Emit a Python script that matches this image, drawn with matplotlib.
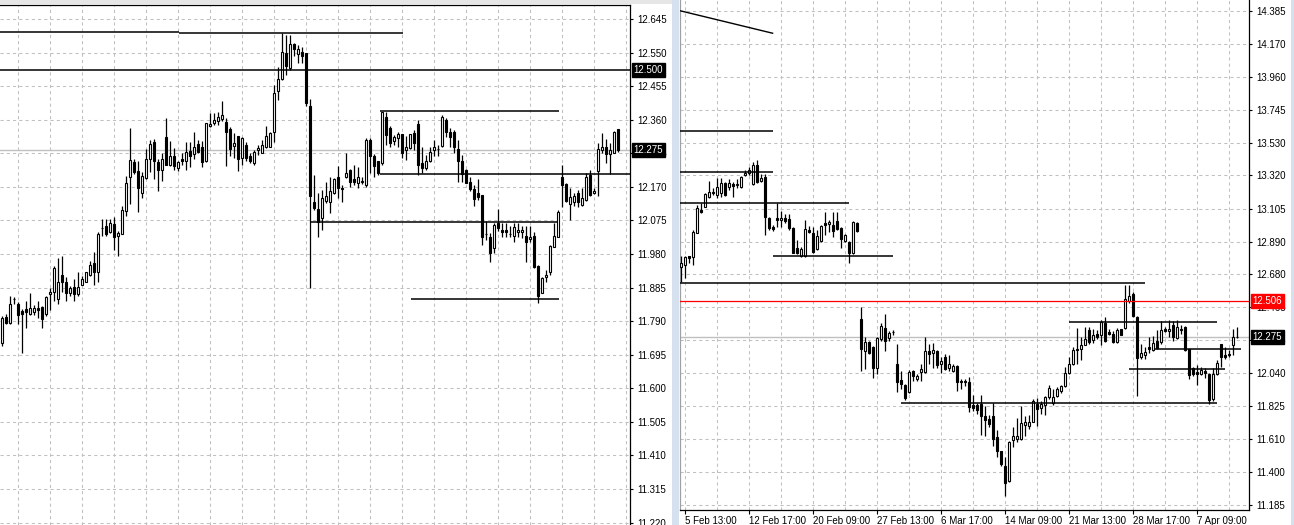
import numpy as np
import matplotlib.pyplot as plt
from matplotlib.patches import Rectangle

plt.rcParams['font.family'] = ['Liberation Sans', 'DejaVu Sans']

# ---- left chart, one bar per entry ----
left_open = [
    11.727, 11.803, 11.786, 11.852, 11.838, 11.819, 11.824, 11.809, 11.817, 11.828,
    11.830, 11.809, 11.868, 11.873, 11.854, 11.920, 11.900, 11.871, 11.888, 11.867,
    11.893, 11.902, 11.920, 11.954, 11.928, 12.055, 12.058, 12.043, 12.064, 12.030,
    12.038, 12.102, 12.199, 12.241, 12.216, 12.154, 12.194, 12.249, 12.296, 12.239,
    12.218, 12.310, 12.232, 12.258, 12.223, 12.250, 12.244, 12.272, 12.263, 12.291,
    12.282, 12.244, 12.343, 12.352, 12.357, 12.361, 12.353, 12.334, 12.286, 12.314,
    12.251, 12.289, 12.256, 12.237, 12.273, 12.267, 12.282, 12.284, 12.326, 12.442,
    12.474, 12.548, 12.506, 12.574, 12.546, 12.553, 12.550, 12.399, 12.128, 12.107,
    12.081, 12.131, 12.126, 12.152, 12.199, 12.168, 12.197, 12.218, 12.192, 12.182,
    12.185, 12.175, 12.303, 12.256, 12.242, 12.237, 12.369, 12.336, 12.301, 12.308,
    12.320, 12.273, 12.279, 12.322, 12.348, 12.237, 12.223, 12.242, 12.273, 12.277,
    12.286, 12.359, 12.324, 12.326, 12.276, 12.242, 12.218, 12.185, 12.163, 12.152,
    12.147, 12.037, 12.029, 11.996, 12.069, 12.048, 12.048, 12.037, 12.031, 12.041,
    12.041, 12.031, 12.022, 12.031, 11.946, 11.871, 11.916, 11.930, 12.001, 12.029,
    12.197, 12.178, 12.122, 12.126, 12.152, 12.119, 12.133, 12.204, 12.152, 12.216,
    12.273, 12.282, 12.263, 12.267, 12.333]
left_high = [
    11.806, 11.810, 11.862, 11.857, 11.845, 11.824, 11.848, 11.869, 11.837, 11.848,
    11.834, 11.862, 11.885, 11.947, 11.968, 11.975, 11.914, 11.890, 11.909, 11.930,
    11.918, 11.930, 11.961, 11.985, 12.043, 12.079, 12.079, 12.079, 12.084, 12.046,
    12.115, 12.201, 12.336, 12.249, 12.244, 12.211, 12.277, 12.303, 12.305, 12.250,
    12.267, 12.366, 12.300, 12.279, 12.244, 12.267, 12.298, 12.298, 12.326, 12.303,
    12.300, 12.352, 12.378, 12.378, 12.383, 12.413, 12.364, 12.340, 12.322, 12.314,
    12.310, 12.298, 12.267, 12.275, 12.289, 12.303, 12.341, 12.324, 12.458, 12.508,
    12.605, 12.600, 12.600, 12.578, 12.572, 12.567, 12.550, 12.418, 12.204, 12.152,
    12.161, 12.185, 12.199, 12.194, 12.229, 12.175, 12.267, 12.220, 12.232, 12.226,
    12.199, 12.307, 12.307, 12.263, 12.244, 12.383, 12.383, 12.341, 12.317, 12.326,
    12.320, 12.314, 12.320, 12.331, 12.359, 12.284, 12.260, 12.284, 12.303, 12.289,
    12.374, 12.364, 12.336, 12.331, 12.303, 12.260, 12.220, 12.197, 12.175, 12.192,
    12.147, 12.072, 12.039, 12.069, 12.107, 12.069, 12.069, 12.058, 12.067, 12.067,
    12.060, 12.058, 12.058, 12.043, 11.949, 11.916, 11.935, 12.006, 12.067, 12.105,
    12.232, 12.182, 12.166, 12.152, 12.161, 12.166, 12.210, 12.218, 12.166, 12.295,
    12.322, 12.305, 12.295, 12.329, 12.333]
left_low = [
    11.719, 11.782, 11.782, 11.838, 11.782, 11.700, 11.772, 11.807, 11.807, 11.798,
    11.771, 11.805, 11.822, 11.848, 11.838, 11.873, 11.848, 11.862, 11.848, 11.862,
    11.892, 11.900, 11.917, 11.893, 11.900, 12.030, 12.030, 12.039, 11.992, 11.973,
    12.036, 12.088, 12.121, 12.206, 12.100, 12.138, 12.192, 12.213, 12.192, 12.159,
    12.187, 12.232, 12.230, 12.218, 12.216, 12.232, 12.218, 12.225, 12.249, 12.267,
    12.225, 12.241, 12.340, 12.345, 12.345, 12.357, 12.229, 12.256, 12.251, 12.216,
    12.232, 12.242, 12.237, 12.232, 12.260, 12.265, 12.279, 12.282, 12.298, 12.416,
    12.473, 12.487, 12.501, 12.539, 12.520, 12.520, 12.399, 11.883, 12.105, 12.029,
    12.048, 12.124, 12.097, 12.150, 12.138, 12.126, 12.194, 12.169, 12.175, 12.166,
    12.178, 12.171, 12.209, 12.199, 12.204, 12.232, 12.289, 12.284, 12.289, 12.282,
    12.251, 12.246, 12.276, 12.274, 12.204, 12.210, 12.218, 12.239, 12.258, 12.258,
    12.284, 12.312, 12.284, 12.265, 12.185, 12.185, 12.180, 12.157, 12.116, 12.133,
    12.006, 12.020, 11.956, 11.984, 12.046, 12.029, 12.029, 12.027, 12.015, 12.029,
    12.025, 11.956, 12.015, 11.940, 11.841, 11.869, 11.902, 11.921, 11.999, 12.027,
    12.112, 12.128, 12.075, 12.116, 12.114, 12.116, 12.131, 12.143, 12.150, 12.143,
    12.265, 12.237, 12.207, 12.265, 12.269]
left_close = [
    11.798, 11.785, 11.838, 11.852, 11.808, 11.809, 11.817, 11.828, 11.828, 11.822,
    11.796, 11.857, 11.873, 11.939, 11.902, 11.902, 11.869, 11.883, 11.866, 11.888,
    11.908, 11.928, 11.949, 11.928, 12.038, 12.053, 12.038, 12.069, 12.029, 12.039,
    12.104, 12.181, 12.246, 12.211, 12.167, 12.200, 12.250, 12.291, 12.244, 12.218,
    12.249, 12.232, 12.256, 12.230, 12.239, 12.244, 12.269, 12.258, 12.284, 12.269,
    12.239, 12.350, 12.348, 12.359, 12.367, 12.373, 12.326, 12.276, 12.293, 12.248,
    12.307, 12.251, 12.242, 12.270, 12.279, 12.289, 12.314, 12.322, 12.435, 12.474,
    12.553, 12.512, 12.574, 12.559, 12.559, 12.539, 12.408, 12.143, 12.109, 12.070,
    12.138, 12.144, 12.157, 12.192, 12.166, 12.163, 12.210, 12.185, 12.185, 12.199,
    12.186, 12.303, 12.256, 12.229, 12.210, 12.383, 12.317, 12.293, 12.310, 12.320,
    12.267, 12.284, 12.320, 12.293, 12.232, 12.223, 12.243, 12.270, 12.282, 12.276,
    12.367, 12.326, 12.312, 12.282, 12.242, 12.207, 12.182, 12.163, 12.135, 12.141,
    12.029, 12.036, 11.984, 12.062, 12.053, 12.041, 12.041, 12.036, 12.056, 12.048,
    12.048, 12.015, 12.029, 11.944, 11.860, 11.911, 11.921, 12.003, 12.031, 12.100,
    12.176, 12.131, 12.142, 12.144, 12.128, 12.138, 12.197, 12.147, 12.159, 12.276,
    12.284, 12.263, 12.275, 12.326, 12.275]

# ---- right chart, one bar per entry ----
right_open = [
    12.730, 12.740, 12.795, 12.794, 12.950, 13.096, 13.118, 13.183, 13.215, 13.194,
    13.204, 13.269, 13.243, 13.265, 13.256, 13.243, 13.325, 13.334, 13.265, 13.388,
    13.286, 13.308, 13.042, 12.984, 13.042, 13.032, 13.042, 13.036, 12.978, 12.848,
    12.798, 12.798, 12.967, 12.950, 12.842, 12.898, 13.014, 13.006, 12.999, 13.027,
    12.978, 12.898, 12.891, 12.816, 13.014, 12.389, 12.184, 12.243, 12.206, 12.076,
    12.260, 12.329, 12.264, 12.307, 12.098, 11.997, 11.962, 11.919, 12.055, 12.001,
    12.044, 12.044, 12.184, 12.169, 12.184, 12.098, 12.141, 12.076, 12.055, 12.083,
    11.990, 11.990, 11.979, 11.832, 11.832, 11.839, 11.759, 11.742, 11.759, 11.623,
    11.537, 11.435, 11.342, 11.608, 11.612, 11.612, 11.703, 11.694, 11.724, 11.839,
    11.815, 11.831, 11.885, 11.848, 11.891, 11.921, 11.956, 12.042, 12.100, 12.198,
    12.193, 12.224, 12.316, 12.252, 12.295, 12.284, 12.366, 12.306, 12.295, 12.241,
    12.323, 12.331, 12.504, 12.554, 12.403, 12.144, 12.159, 12.208, 12.187, 12.249,
    12.241, 12.323, 12.310, 12.353, 12.267, 12.327, 12.338, 12.193, 12.072, 12.046,
    12.036, 12.051, 12.036, 11.869, 12.036, 12.230, 12.159, 12.165, 12.219, 12.273]
right_high = [
    12.800, 12.798, 12.799, 12.967, 13.129, 13.140, 13.209, 13.286, 13.237, 13.301,
    13.301, 13.280, 13.295, 13.280, 13.295, 13.317, 13.355, 13.377, 13.409, 13.420,
    13.330, 13.330, 13.053, 12.999, 13.144, 13.090, 13.070, 13.070, 12.988, 12.902,
    12.855, 13.032, 12.993, 12.988, 12.967, 12.997, 13.086, 13.032, 13.086, 13.086,
    12.984, 12.941, 12.898, 13.027, 13.021, 12.465, 12.271, 12.249, 12.217, 12.271,
    12.364, 12.422, 12.314, 12.320, 12.228, 12.055, 11.968, 12.061, 12.061, 12.033,
    12.098, 12.271, 12.228, 12.234, 12.191, 12.141, 12.163, 12.156, 12.098, 12.092,
    12.001, 12.001, 12.012, 11.897, 11.845, 11.897, 11.828, 11.768, 11.845, 11.673,
    11.537, 11.494, 11.601, 11.688, 11.746, 11.824, 11.763, 11.768, 11.871, 11.876,
    11.860, 11.893, 11.964, 11.939, 11.949, 11.964, 12.079, 12.144, 12.208, 12.331,
    12.273, 12.338, 12.338, 12.327, 12.316, 12.381, 12.403, 12.327, 12.310, 12.331,
    12.327, 12.612, 12.608, 12.565, 12.409, 12.230, 12.208, 12.273, 12.280, 12.316,
    12.375, 12.338, 12.381, 12.375, 12.381, 12.349, 12.344, 12.198, 12.079, 12.094,
    12.079, 12.072, 12.042, 12.072, 12.122, 12.230, 12.208, 12.187, 12.327, 12.338]
right_low = [
    12.630, 12.654, 12.751, 12.740, 12.945, 13.079, 13.114, 13.172, 13.194, 13.172,
    13.183, 13.189, 13.226, 13.183, 13.237, 13.239, 13.317, 13.325, 13.258, 13.269,
    13.280, 12.934, 12.967, 12.963, 12.984, 12.984, 13.014, 12.967, 12.816, 12.811,
    12.794, 12.790, 12.945, 12.820, 12.837, 12.891, 12.934, 12.956, 12.919, 12.967,
    12.848, 12.891, 12.755, 12.811, 12.956, 12.055, 12.066, 12.163, 12.005, 12.033,
    12.249, 12.184, 12.249, 12.286, 11.919, 11.936, 11.867, 11.914, 11.990, 11.990,
    11.990, 12.040, 12.098, 12.076, 12.076, 12.040, 12.061, 12.055, 12.048, 11.925,
    11.936, 11.953, 11.785, 11.796, 11.774, 11.638, 11.634, 11.688, 11.569, 11.494,
    11.440, 11.245, 11.336, 11.558, 11.591, 11.608, 11.630, 11.677, 11.720, 11.694,
    11.774, 11.768, 11.869, 11.835, 11.885, 11.913, 11.949, 12.036, 12.094, 12.100,
    12.122, 12.219, 12.230, 12.236, 12.262, 12.224, 12.241, 12.284, 12.236, 12.236,
    12.284, 12.327, 12.496, 12.403, 11.891, 12.133, 12.133, 12.172, 12.180, 12.198,
    12.230, 12.306, 12.273, 12.245, 12.262, 12.295, 12.180, 12.003, 12.021, 11.960,
    12.025, 12.008, 11.841, 11.856, 12.029, 12.079, 12.133, 12.144, 12.154, 12.267]
right_close = [
    12.750, 12.794, 12.787, 12.956, 13.107, 13.086, 13.200, 13.215, 13.204, 13.248,
    13.273, 13.194, 13.273, 13.252, 13.265, 13.312, 13.338, 13.355, 13.388, 13.280,
    13.301, 13.053, 12.978, 12.971, 13.032, 13.042, 13.027, 12.978, 12.820, 12.820,
    12.842, 12.971, 12.956, 12.827, 12.928, 12.993, 12.999, 13.021, 12.963, 12.971,
    12.906, 12.934, 12.816, 13.021, 12.963, 12.195, 12.243, 12.169, 12.076, 12.264,
    12.342, 12.249, 12.299, 12.305, 11.984, 11.968, 11.876, 12.044, 12.018, 12.022,
    12.066, 12.184, 12.163, 12.191, 12.092, 12.120, 12.066, 12.098, 12.083, 11.984,
    11.979, 11.979, 11.817, 11.811, 11.802, 11.763, 11.737, 11.709, 11.612, 11.537,
    11.450, 11.327, 11.595, 11.630, 11.634, 11.716, 11.724, 11.724, 11.860, 11.806,
    11.840, 11.885, 11.943, 11.885, 11.938, 11.956, 12.042, 12.100, 12.187, 12.187,
    12.224, 12.262, 12.241, 12.288, 12.273, 12.370, 12.245, 12.295, 12.241, 12.316,
    12.288, 12.521, 12.539, 12.409, 12.137, 12.172, 12.176, 12.193, 12.236, 12.202,
    12.316, 12.310, 12.327, 12.273, 12.338, 12.316, 12.187, 12.029, 12.036, 12.036,
    12.057, 12.042, 11.863, 12.036, 12.107, 12.144, 12.144, 12.154, 12.273, 12.275]

# price scale labels
left_price_labels = ['12.645', '12.550', '12.455', '12.360', '12.265', '12.170', '12.075',
                     '11.980', '11.885', '11.790', '11.695', '11.600', '11.505', '11.410',
                     '11.315', '11.220']
right_price_labels = ['14.385', '14.170', '13.960', '13.745', '13.530', '13.320', '13.105',
                      '12.890', '12.680', '12.465', '12.255', '12.040', '11.825', '11.610',
                      '11.400', '11.185']
right_time_labels = ['5 Feb 13:00', '12 Feb 17:00', '20 Feb 09:00', '27 Feb 13:00',
                     '6 Mar 17:00', '14 Mar 09:00', '21 Mar 13:00', '28 Mar 17:00',
                     '7 Apr 09:00']

# drawn levels: (price, first bar, last bar)
left_levels = [(12.607, -0.6, 44.2), (12.604, 44.2, 100.2), (12.385, 94.3, 139.2),
               (12.206, 94.3, 157.0), (12.071, 77.2, 138.9), (11.852, 102.2, 139.2)]
left_marked_level = 12.500
right_levels = [(13.606, -0.3, 22.9), (13.340, -0.3, 22.9), (13.142, -0.3, 41.9),
                (12.798, 23.0, 53.0), (12.622, -0.3, 116.0), (12.373, 97.0, 134.0),
                (12.194, 118.5, 140.0), (12.064, 112.0, 136.0), (11.844, 55.0, 134.0)]
right_trend = [(-0.3, 14.387), (22.9, 14.241)]
right_alert_level = 12.506
last_price = 12.275

W, H = 1294, 525
fig = plt.figure(figsize=(W / 100, H / 100), dpi=100)
fig.patch.set_facecolor('white')


def px_axes(x0, y0, x1, y1):
    return fig.add_axes([x0 / W, 1 - y1 / H, (x1 - x0) / W, (y1 - y0) / H])


def draw_candles(ax, o, h, l, c):
    o, h, l, c = map(np.asarray, (o, h, l, c))
    x = np.arange(len(o))
    ax.vlines(x, l, h, color='black', lw=0.9, zorder=3)
    up = c >= o
    bottom = np.minimum(o, c)
    height = np.maximum(np.abs(c - o), 0.0008)
    ax.bar(x[up], height[up], bottom=bottom[up], width=0.55, color='white',
           edgecolor='black', lw=0.8, zorder=4)
    ax.bar(x[~up], height[~up], bottom=bottom[~up], width=0.55, color='black',
           edgecolor='black', lw=0.8, zorder=4)


def price_box(ax, price, text, color):
    ax.annotate(text, xy=(1, price), xycoords=ax.get_yaxis_transform(),
                xytext=(2.5, 0), textcoords='offset points', ha='left', va='center',
                fontsize=7, color='white', annotation_clip=False,
                bbox=dict(boxstyle='square,pad=0.18', fc=color, ec=color), zorder=10)


def style_axes(ax, labels):
    ticks = [float(s) for s in labels]
    ax.set_yticks(ticks)
    ax.set_yticklabels(labels)
    ax.yaxis.tick_right()
    ax.tick_params(axis='y', direction='out', length=2.5, width=0.8, pad=2.5,
                   labelsize=7, colors='black')
    ax.grid(True, color='#c0c0c0', linestyle=(0, (3, 3)), lw=0.75)
    ax.set_axisbelow(True)
    for s in ax.spines.values():
        s.set_color('black')
        s.set_linewidth(0.9)


# background strips
fig.patches.append(Rectangle((672 / W, 0), 7 / W, 1, transform=fig.transFigure,
                             fc='#d5e1ef', ec='none', zorder=0))
fig.patches.append(Rectangle((1291 / W, 0), 3 / W, 1, transform=fig.transFigure,
                             fc='#d5e1ef', ec='none', zorder=0))
fig.patches.append(Rectangle((0, 1 - 4 / H), 672 / W, 4 / H, transform=fig.transFigure,
                             fc='#e6e6e6', ec='none', zorder=0))

# ---- left panel ----
axl = px_axes(0, 5, 630, 525)
draw_candles(axl, left_open, left_high, left_low, left_close)
axl.set_xlim(-0.575, 156.925)
axl.set_ylim(11.2132, 12.6846)
style_axes(axl, left_price_labels)
axl.set_xticks(np.arange(4, 157, 8))
axl.tick_params(axis='x', length=0, labelbottom=False)
axl.spines['left'].set_visible(False)
axl.spines['bottom'].set_visible(False)
for p, a, b in left_levels:
    axl.hlines(p, a, b, color='black', lw=1.1, zorder=5)
axl.axhline(left_marked_level, color='black', lw=1.1, zorder=5)
axl.axhline(last_price, color='#c0c0c0', lw=1.0, zorder=2)
price_box(axl, left_marked_level, '12.500', 'black')
price_box(axl, last_price, '12.275', 'black')

# ---- right panel ----
axr = px_axes(680, 0, 1249, 510)
draw_candles(axr, right_open, right_high, right_low, right_close)
axr.set_xlim(-0.25, 142.0)
axr.set_ylim(11.1531, 14.4562)
style_axes(axr, right_price_labels)
axr.spines['top'].set_visible(False)
axr.spines['left'].set_color('#a0a0a0')
axr.set_xticks(np.arange(1, 140, 16))
axr.set_xticklabels(right_time_labels, ha='left')
axr.set_xticks(np.arange(9, 140, 16), minor=True)
axr.tick_params(axis='x', which='major', direction='out', length=3, width=0.8,
                pad=1.5, labelsize=7)
axr.tick_params(axis='x', which='minor', length=0)
axr.grid(True, which='minor', axis='x', color='#c0c0c0', linestyle=(0, (3, 3)), lw=0.75)
for lbl in axr.get_xticklabels():
    lbl.set_horizontalalignment('left')
for p, a, b in right_levels:
    axr.hlines(p, a, b, color='black', lw=1.1, zorder=5)
(tx0, ty0), (tx1, ty1) = right_trend
axr.plot([tx0, tx1], [ty0, ty1], color='black', lw=1.0, zorder=5)
axr.axhline(right_alert_level, color='red', lw=0.9, zorder=5)
axr.axhline(last_price, color='#c0c0c0', lw=1.0, zorder=2)
price_box(axr, right_alert_level, '12.506', 'red')
price_box(axr, last_price, '12.275', 'black')

fig.savefig('out.png', dpi=100, facecolor='white')
